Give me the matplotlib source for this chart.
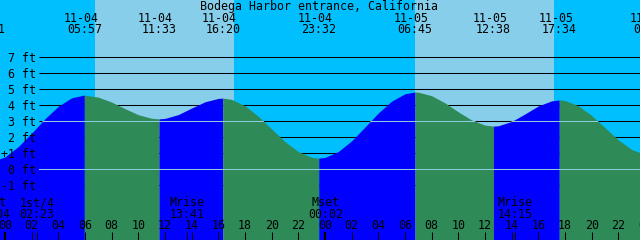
import matplotlib
matplotlib.use("Agg")
import matplotlib.pyplot as plt
import numpy as np
from matplotlib.path import Path

station = "Bodega Harbor entrance, California"

# hourly tide height (ft), hour -1 = 11-03 23:00, hour 0 = 11-04 00:00
hours = np.arange(-1, 49)
heights = [0.47, 0.78, 1.42, 2.26, 3.16, 3.94, 4.47, 4.63, 4.51, 4.20,
           3.79, 3.41, 3.19, 3.18, 3.42, 3.83, 4.22, 4.43, 4.37, 3.97,
           3.31, 2.52, 1.73, 1.10, 0.75, 0.74, 1.11, 1.78, 2.64, 3.52,
           4.26, 4.72, 4.82, 4.60, 4.15, 3.59, 3.08, 2.76, 2.72, 2.99,
           3.46, 3.96, 4.28, 4.30, 3.97, 3.36, 2.60, 1.84, 1.24, 0.93]

# high / low tides
ext_day = [-1, 0, 0, 0, 0, 1, 1, 1, 2]
ext_date = ["11-03", "11-04", "11-04", "11-04", "11-04", "11-05", "11-05", "11-05", "11-06"]
ext_clock = ["22:41", "05:57", "11:33", "16:20", "23:32", "06:45", "12:38", "17:34", "00:24"]
ext_height = [0.45, 4.64, 3.15, 4.45, 0.70, 4.83, 2.70, 4.33, 0.90]

# sun (night spans) and moon events
night_start = ["-1 17:10", "0 17:10", "1 17:09"]
night_end = ["0 06:46", "1 06:47", "2 06:48"]
moon_day = [-1, 0, 0, 1, 1]
moon_label = ["Mset", "1st/4", "Mrise", "Mset", "Mrise"]
moon_clock = ["23:04", "02:23", "13:41", "00:02", "14:15"]

levels = [7, 6, 5, 4, 3, 2, 1, 0, -1]
level_labels = ["7 ft", "6 ft", "5 ft", "4 ft", "3 ft", "2 ft", "+1 ft", "0 ft", "-1 ft"]
msl = 3
datum = 0


def clock_hours(day, clock):
    hh, mm = clock.split(":")
    return 24 * day + int(hh) + int(mm) / 60


def stamp_hours(s):
    d, c = s.split()
    return clock_hours(int(d), c)


night_col = "#00BFFF"
day_col = "#87CEEB"
flood = "#0000FF"
ebb = "#2E8B57"
fnt = dict(family="DejaVu Sans Mono", size=8.4, color="black")

W, H = 640, 240
pxh = 13.333          # pixels per hour
x0 = 5                # pixel of 11-04 00:00
pxft = 16             # pixels per foot
y0 = 169.3            # pixel of 0 ft

fig = plt.figure(figsize=(W / 100, H / 100), dpi=100)
ax = fig.add_axes([0, 0, 1, 1])
xmin, xmax = -x0 / pxh, (W - x0) / pxh
ybot, ytop = (y0 - H) / pxft, y0 / pxft
ax.set_xlim(xmin, xmax)
ax.set_ylim(ybot, ytop)
ax.axis("off")


def ax_y(py):
    return 1 - py / H


def px_t(px):
    return (px - x0) / pxh


# day / night sky
ax.axvspan(xmin, xmax, color=day_col, lw=0, zorder=0)
for a, b in zip(night_start, night_end):
    ax.axvspan(stamp_hours(a), stamp_hours(b), color=night_col, lw=0, zorder=0)

# foot lines
ax.hlines(levels, px_t(39), xmax, color="black", lw=0.75, zorder=1)

# tide curve, blue while rising, green while falling
ext_t = [clock_hours(d, c) for d, c in zip(ext_day, ext_clock)]
t_all = np.concatenate([hours, ext_t])
h_all = np.concatenate([heights, ext_height])
order = np.argsort(t_all)
t_all, h_all = t_all[order], h_all[order]
d = np.sign(np.diff(h_all))
breaks = [0] + list(np.where(d[1:] != d[:-1])[0] + 1) + [len(h_all) - 1]
fills = []
for a, b in zip(breaks[:-1], breaks[1:]):
    col = flood if h_all[b] > h_all[a] else ebb
    fills.append(ax.fill_between(t_all[a:b + 1], h_all[a:b + 1], ybot, color=col,
                                 lw=0, antialiased=False, zorder=2))
water = Path.make_compound_path(*[p for f in fills for p in f.get_paths()])
for lv in (msl, datum):
    ln, = ax.plot([px_t(39), xmax], [lv, lv], color="#8CCBE0", lw=0.75, zorder=3)
    ln.set_clip_path(water, ax.transData)

# level labels
for lv, lab in zip(levels, level_labels):
    ax.text(px_t(36), lv - 5 / pxft, lab, ha="right", va="baseline", zorder=5, **fnt)

# title and tide times
ax.text(319 / W, ax_y(10), station, ha="center", va="baseline",
        transform=ax.transAxes, zorder=5, **fnt)
tr = ax.get_xaxis_transform()
for t, dt, c in zip(ext_t, ext_date, ext_clock):
    ax.text(t - 3.5 / pxh, ax_y(22), dt, ha="center", va="baseline", transform=tr, zorder=5, **fnt)
    ax.text(t, ax_y(33), c, ha="center", va="baseline", transform=tr, zorder=5, **fnt)

# moon events
moon_t = [clock_hours(dd, c) for dd, c in zip(moon_day, moon_clock)]
for t, lab, c in zip(moon_t, moon_label, moon_clock):
    ax.text(t, ax_y(206), lab, ha="center", va="baseline", transform=tr, zorder=5, **fnt)
    ax.text(t, ax_y(217.7), c, ha="center", va="baseline", transform=tr, zorder=5, **fnt)
ax.vlines(moon_t, 0, 8 / H, color="black", lw=0.75, transform=tr, zorder=5)

# hour ticks
tick_h = np.arange(0, 49, 2)
ax.vlines(tick_h, 0, 8 / H, color="black",
          lw=[1.6 if h % 24 == 0 else 0.75 for h in tick_h], transform=tr, zorder=5)
for h in tick_h:
    ax.text(h, ax_y(229.3), f"{h % 24:02d}", ha="center", va="baseline",
            transform=tr, zorder=5, **fnt)

fig.savefig("out.png", dpi=100)
